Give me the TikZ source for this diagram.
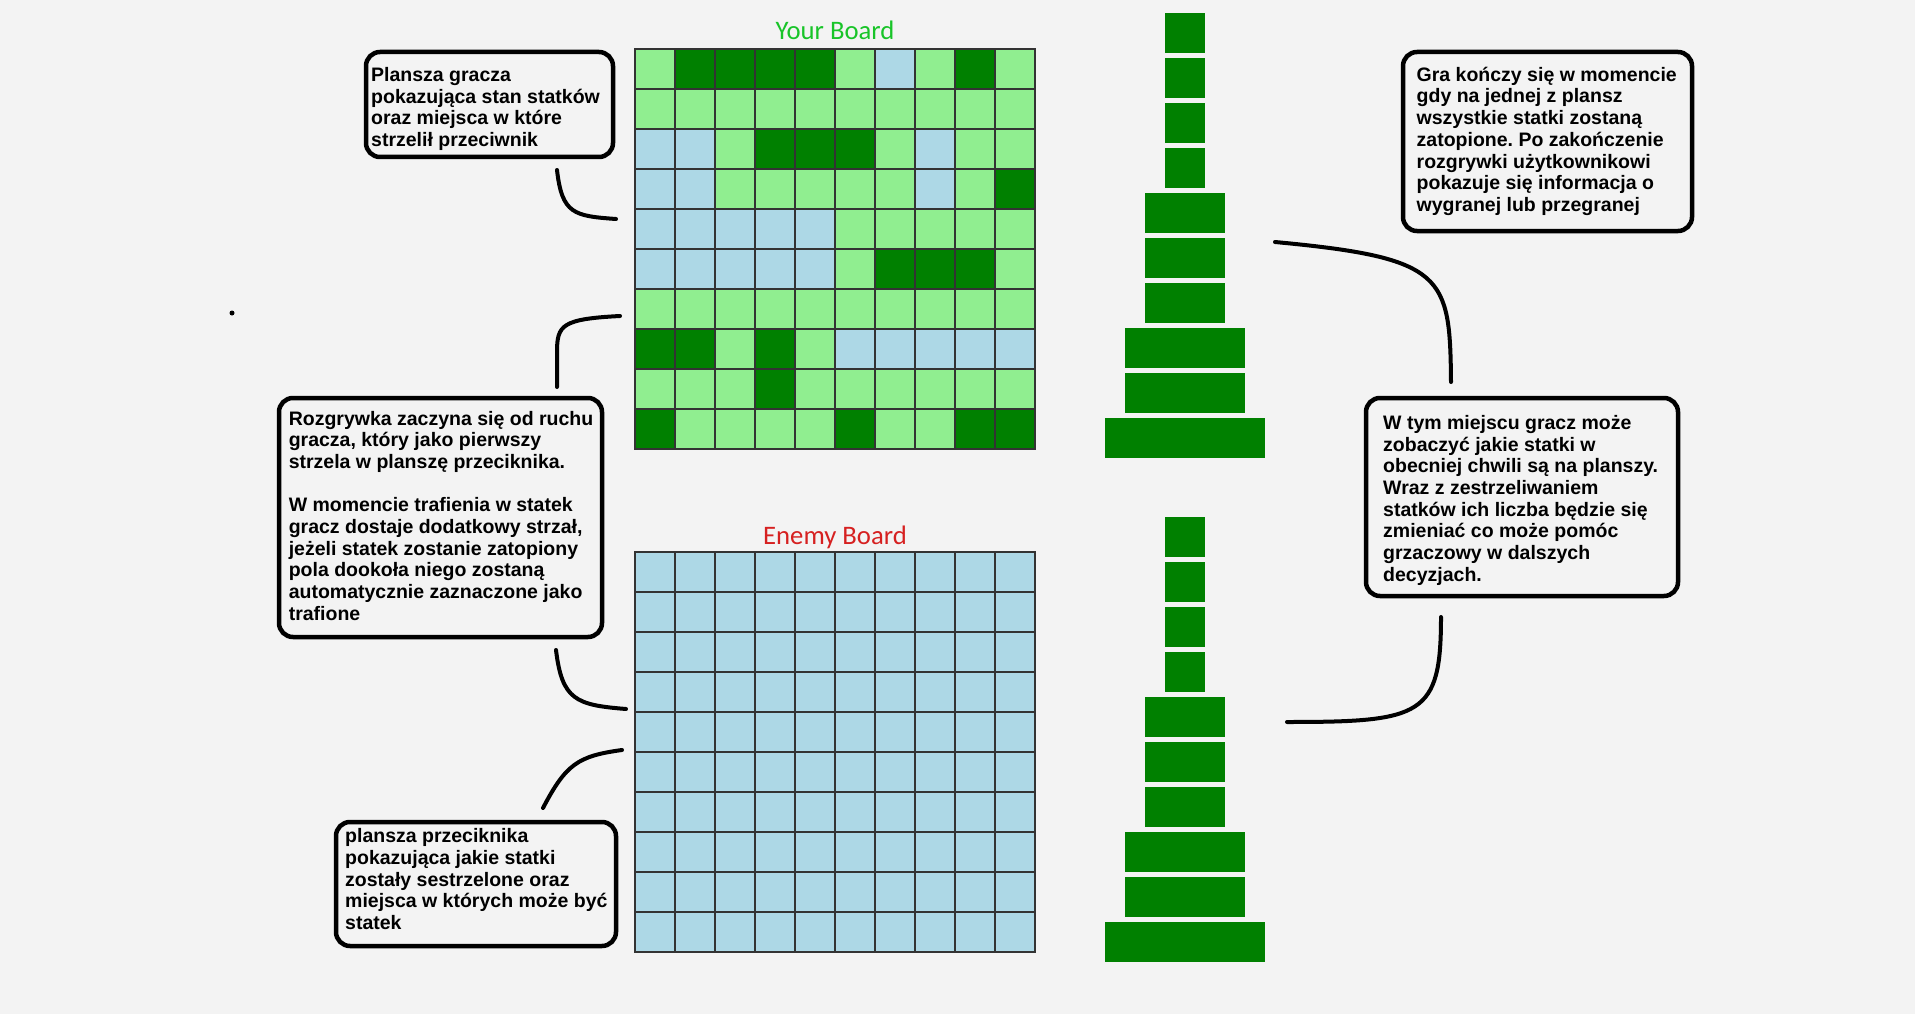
\documentclass[tikz,border=0pt]{standalone}
\usepackage{fontspec}
\setmainfont{Liberation Sans}
\newfontfamily\boardfont{Carlito}
\frenchspacing

\definecolor{backdrop}{RGB}{243,243,243}
\definecolor{cellL}{RGB}{144,238,144}
\definecolor{cellD}{RGB}{0,128,0}
\definecolor{cellB}{RGB}{173,216,230}
\definecolor{yourgreen}{RGB}{24,196,40}
\definecolor{enemyred}{RGB}{214,32,32}

\begin{document}
\begin{tikzpicture}[x = 1pt, y = -1pt,
  notebox/.style={draw, line width = 4.5pt, rounded corners = 14pt, inner sep = 0pt},
  notetext/.style={anchor = north west, inner sep = 0pt, align = left, font = \fontsize{19.5}{21.7}\selectfont\bfseries},
  boardtitle/.style={anchor = base, inner sep = 0pt, font = \boardfont\fontsize{26.7}{32}\selectfont},
  cellbox/.style={draw = black!80, line width = 1.2pt},
  ship/.style={fill = cellD},
  linkline/.style={line width = 4pt, line cap = round}]

  \fill[backdrop] (0, 0) rectangle (1915, 1014);
  \fill (232, 313) circle (2.5);

  \node[boardtitle, text = yourgreen] (your title) at (835, 40) { Your Board };
  \node[boardtitle, text = enemyred] (enemy title) at (835, 544) { Enemy Board };

  \foreach \row [count = \r from 0] in {{L,D,D,D,D,L,B,L,D,L}, {L,L,L,L,L,L,L,L,L,L},
      {B,B,L,D,D,D,L,B,L,L}, {B,B,L,L,L,L,L,B,L,D}, {B,B,B,B,B,L,L,L,L,L},
      {B,B,B,B,B,L,D,D,D,L}, {L,L,L,L,L,L,L,L,L,L}, {D,D,L,D,L,B,B,B,B,B},
      {L,L,L,D,L,L,L,L,L,L}, {D,L,L,L,L,D,L,L,D,D}}
    \foreach \c [count = \k from 0] in \row
      \draw[cellbox, fill = cell\c] ({635 + 40*\k}, {49 + 40*\r}) rectangle ++(40, 40);

  \foreach \r in {0, ..., 9}
    \foreach \k in {0, ..., 9}
      \draw[cellbox, fill = cellB] ({635 + 40*\k}, {552 + 40*\r}) rectangle ++(40, 40);

  \foreach \oy in {0, 504}
    \foreach \t/\w in {13/40, 58/40, 103/40, 148/40, 193/80, 238/80, 283/80, 328/120, 373/120, 418/160}
      \fill[ship] ({1185 - \w/2}, {\oy + \t}) rectangle ++(\w, 40);

  \node[notebox, minimum width = 247, minimum height = 105] (player box) at (489.5, 104.5) {};
  \node[notetext] (player text) at (371, 67) { Plansza gracza\\ pokazująca stan statków\\ oraz miejsca w które\\ strzelił przeciwnik };

  \node[notebox, minimum width = 323, minimum height = 239] (rules box) at (440.5, 517.5) {};
  \node[notetext] (rules text) at (288.6, 410.7) { Rozgrywka zaczyna się od ruchu\\ gracza, który jako pierwszy\\ strzela w planszę przeciknika.\\[21.7pt] W momencie trafienia w statek\\ gracz dostaje dodatkowy strzał,\\ jeżeli statek zostanie zatopiony\\ pola dookoła niego zostaną\\ automatycznie zaznaczone jako\\ trafione };

  \node[notebox, minimum width = 289, minimum height = 179] (end box) at (1547.5, 141.5) {};
  \node[notetext] (end text) at (1416.5, 66.7) { Gra kończy się w momencie\\ gdy na jednej z plansz\\ wszystkie statki zostaną\\ zatopione. Po zakończenie\\ rozgrywki użytkownikowi\\ pokazuje się informacja o\\ wygranej lub przegranej };

  \node[notebox, minimum width = 312, minimum height = 198] (fleet box) at (1522, 497) {};
  \node[notetext] (fleet text) at (1383, 415) { W tym miejscu gracz może\\ zobaczyć jakie statki w\\ obecniej chwili są na planszy.\\ Wraz z zestrzeliwaniem\\ statków ich liczba będzie się\\ zmieniać co może pomóc\\ grzaczowy w dalszych\\ decyzjach. };

  \node[notebox, minimum width = 280, minimum height = 124] (enemy box) at (476, 884) {};
  \node[notetext] (enemy text) at (345, 828.3) { plansza przeciknika\\ pokazująca jakie statki\\ zostały sestrzelone oraz\\ miejsca w których może być\\ statek };

  \coordinate (player link) at (557, 170);
  \coordinate (your board a) at (616, 219);
  \coordinate (your board b) at (620, 316);
  \coordinate (rules link top) at (557, 387);
  \coordinate (rules link bottom) at (556, 650);
  \coordinate (enemy board a) at (626, 709);
  \coordinate (enemy board b) at (622, 750);
  \coordinate (enemy link) at (543, 808);
  \coordinate (top fleet) at (1275, 242);
  \coordinate (end link) at (1451, 382);
  \coordinate (fleet link) at (1441, 617);
  \coordinate (bottom fleet) at (1287, 722);

  \draw[linkline] (player link) .. controls (562, 214) and (574, 216) .. (your board a);
  \draw[linkline] (your board b) .. controls (562, 319) and (557, 325) .. (557, 352) -- (rules link top);
  \draw[linkline] (rules link bottom) .. controls (562, 700) and (576, 705) .. (enemy board a);
  \draw[linkline] (enemy board b) .. controls (578, 756) and (566, 764) .. (enemy link);
  \draw[linkline] (top fleet) .. controls (1445, 258) and (1450, 275) .. (end link);
  \draw[linkline] (fleet link) .. controls (1441, 716) and (1422, 722) .. (bottom fleet);

\end{tikzpicture}
\end{document}
